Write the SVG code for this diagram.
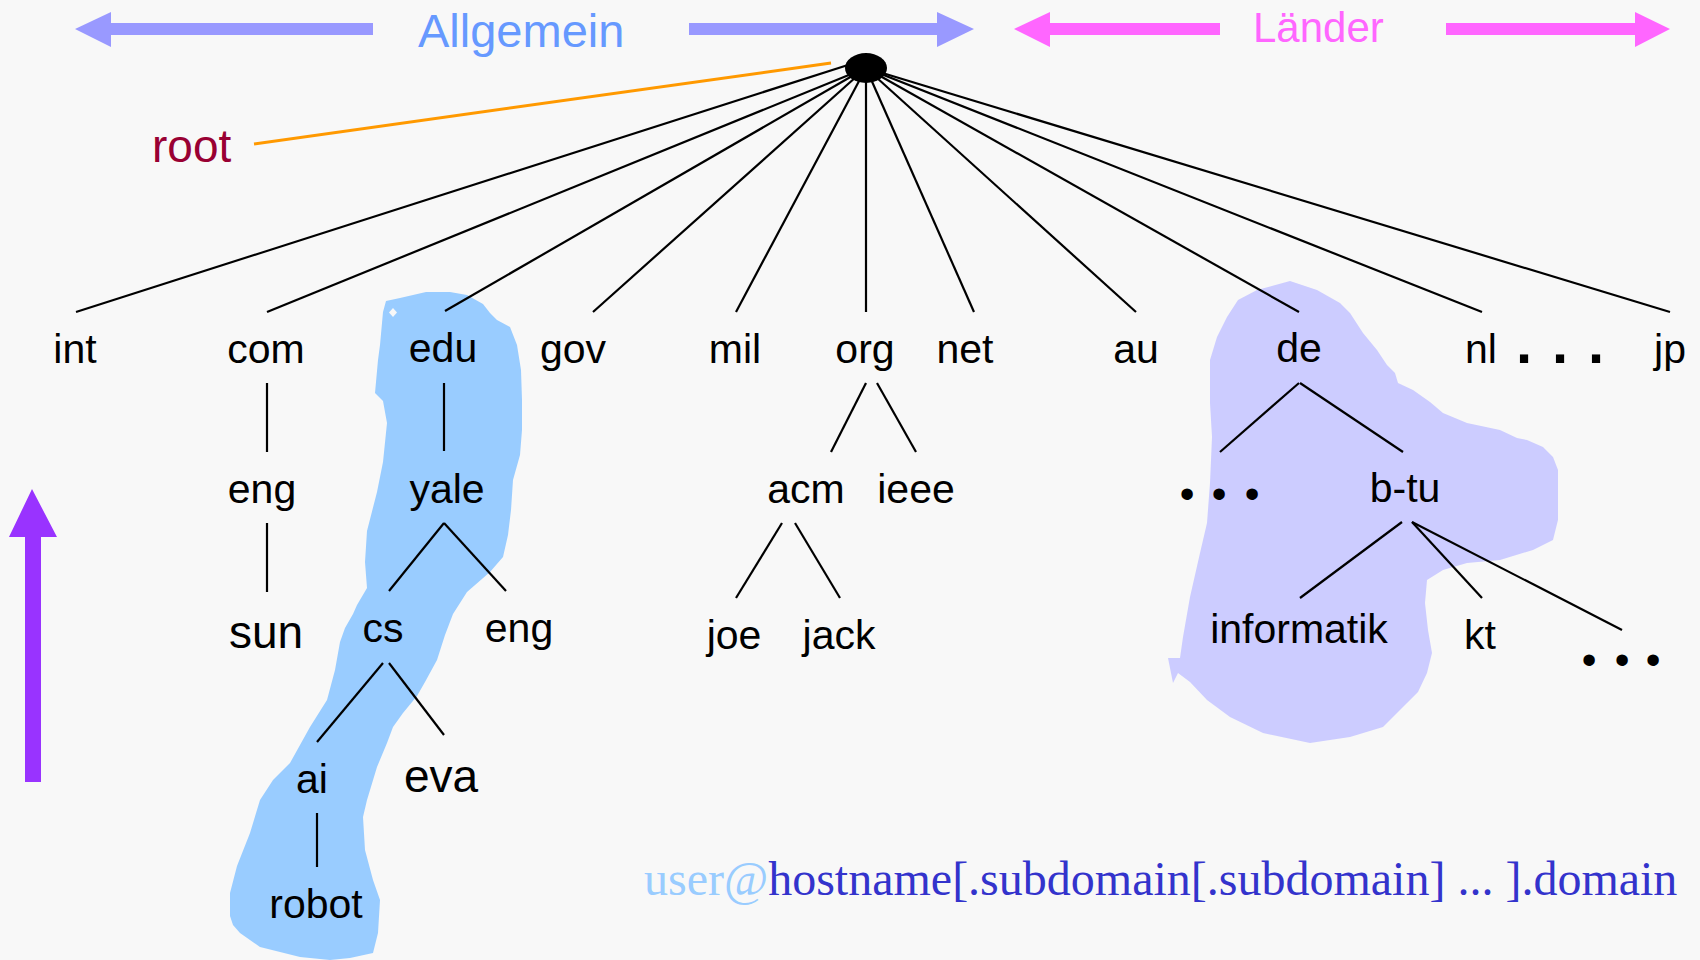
<svg xmlns="http://www.w3.org/2000/svg" width="1700" height="960" viewBox="0 0 1700 960">
  <style>
    .lbl { font-family: "Liberation Sans", Arial, sans-serif; font-size: 41px; fill: #000; text-anchor: middle; }
    .big { font-size: 46px; }
    .edge { stroke: #000; stroke-width: 2.2; fill: none; }
    .dots { font-family: "Liberation Sans", Arial, sans-serif; font-size: 42px; fill: #000; text-anchor: middle; }
    .periods { font-family: "Liberation Sans", Arial, sans-serif; font-size: 58px; font-weight: bold; fill: #000; text-anchor: middle; }
  </style>

  <rect width="1700" height="960" fill="#f8f8f8"/>

  <!-- highlighted zones -->
  <g id="zone-edu">
    <path fill="#99ccff" d="M383,312 L386,301 L400,298 L426,292 L450,292 L467,295 L483,304 L490,313 L497,320 L510,327 L517,345 L521,370 L522,400 L522,430 L520,455 L513,480 L511,510 L508,535 L503,557 L490,572 L467,592 L453,614 L445,635 L437,660 L425,682 L417,696 L403,713 L393,727 L387,743 L377,767 L367,800 L363,817 L365,850 L373,880 L380,900 L378,933 L373,953 L350,958 L330,960 L300,957 L280,952 L260,947 L240,933 L233,925 L230,916 L230,893 L237,866 L250,833 L260,800 L273,780 L290,763 L310,727 L327,700 L335,670 L340,642 L345,628 L353,614 L357,605 L367,588 L365,562 L367,531 L377,492 L383,462 L387,423 L383,401 L375,393 L378,360 L380,345 Z"/>
    <polygon fill="#f8f8f8" points="389,312.5 393,308 397,312.5 393,317"/>
  </g>
  <g id="zone-de">
    <path fill="#ccccff" d="M1290,281 L1317,290 L1340,303 L1350,313 L1363,333 L1377,350 L1387,365 L1395,373 L1398,383 L1413,390 L1430,402 L1443,413 L1467,423 L1500,430 L1517,438 L1527,440 L1543,447 L1553,457 L1558,470 L1558,497 L1558,520 L1553,540 L1533,550 L1500,560 L1467,563 L1443,570 L1427,580 L1425,603 L1428,630 L1432,653 L1427,673 L1418,692 L1407,703 L1383,727 L1350,737 L1310,743 L1263,733 L1230,717 L1207,700 L1190,682 L1178,673 L1173,683 L1168,658 L1180,658 L1183,637 L1190,597 L1200,553 L1207,523 L1210,483 L1212,437 L1210,403 L1210,360 L1217,337 L1227,317 L1238,300 L1257,290 Z"/>
  </g>

  <!-- category headings with double arrows -->
  <g id="heading-allgemein">
    <polygon fill="#9999ff" points="75,29 111,12 111,23 373,23 373,35 111,35 111,47"/>
    <polygon fill="#9999ff" points="689,23 937,23 937,12 974,29 937,47 937,35 689,35"/>
    <text x="418" y="47" font-family="Liberation Sans, Arial, sans-serif" font-size="47" fill="#6699ff">Allgemein</text>
  </g>
  <g id="heading-laender">
    <polygon fill="#ff66ff" points="1014,29 1050,12 1050,23 1220,23 1220,35 1050,35 1050,47"/>
    <polygon fill="#ff66ff" points="1446,23 1635,23 1635,12 1670,29 1635,47 1635,35 1446,35"/>
    <text x="1253" y="42" font-family="Liberation Sans, Arial, sans-serif" font-size="42" fill="#ff66ff">Länder</text>
  </g>

  <!-- resolution direction -->
  <g id="direction-arrow">
    <polygon fill="#9933ff" points="32,489 57,537 41,537 41,782 25,782 25,537 9,537"/>
  </g>

  <!-- tree edges -->
  <g id="connectors">
    <line x1="254" y1="144" x2="831" y2="63" stroke="#ff9900" stroke-width="3"/>
    <line class="edge" x1="848" y1="65" x2="76" y2="312"/>
    <line class="edge" x1="866" y1="68" x2="267" y2="312"/>
    <line class="edge" x1="866" y1="68" x2="445" y2="311"/>
    <line class="edge" x1="866" y1="68" x2="593" y2="312"/>
    <line class="edge" x1="866" y1="68" x2="736" y2="312"/>
    <line class="edge" x1="866" y1="68" x2="866" y2="312"/>
    <line class="edge" x1="866" y1="68" x2="974" y2="312"/>
    <line class="edge" x1="866" y1="68" x2="1136" y2="312"/>
    <line class="edge" x1="866" y1="68" x2="1299" y2="312"/>
    <line class="edge" x1="866" y1="68" x2="1482" y2="312"/>
    <line class="edge" x1="866" y1="68" x2="1670" y2="312"/>

    <line class="edge" x1="267" y1="383" x2="267" y2="452"/>
    <line class="edge" x1="267" y1="523" x2="267" y2="592"/>

    <line class="edge" x1="444" y1="383" x2="444" y2="451"/>
    <line class="edge" x1="444" y1="523" x2="389" y2="591"/>
    <line class="edge" x1="444" y1="523" x2="506" y2="591"/>
    <line class="edge" x1="383" y1="663" x2="317" y2="742"/>
    <line class="edge" x1="389" y1="663" x2="444" y2="735"/>
    <line class="edge" x1="317" y1="813" x2="317" y2="867"/>

    <line class="edge" x1="866" y1="383" x2="831" y2="452"/>
    <line class="edge" x1="877" y1="383" x2="916" y2="452"/>
    <line class="edge" x1="782" y1="523" x2="736" y2="598"/>
    <line class="edge" x1="795" y1="523" x2="840" y2="598"/>

    <line class="edge" x1="1299" y1="383" x2="1220" y2="452"/>
    <line class="edge" x1="1300" y1="383" x2="1403" y2="452"/>
    <line class="edge" x1="1402" y1="522" x2="1300" y2="598"/>
    <line class="edge" x1="1412" y1="522" x2="1482" y2="598"/>
    <line class="edge" x1="1412" y1="522" x2="1622" y2="630"/>
  </g>

  <!-- root -->
  <g id="node-root">
    <ellipse cx="866" cy="68" rx="21" ry="15" fill="#000"/>
    <text x="152" y="162" font-family="Liberation Sans, Arial, sans-serif" font-size="46" fill="#990033">root</text>
  </g>

  <!-- top-level domains -->
  <g id="node-int"><text class="lbl" x="75" y="363">int</text></g>
  <g id="node-com"><text class="lbl" x="266" y="363">com</text></g>
  <g id="node-edu"><text class="lbl" x="443" y="362">edu</text></g>
  <g id="node-gov"><text class="lbl" x="573" y="363">gov</text></g>
  <g id="node-mil"><text class="lbl" x="735" y="363">mil</text></g>
  <g id="node-org"><text class="lbl" x="865" y="363">org</text></g>
  <g id="node-net"><text class="lbl" x="965" y="363">net</text></g>
  <g id="node-au"><text class="lbl" x="1136" y="363">au</text></g>
  <g id="node-de"><text class="lbl" x="1299" y="362">de</text></g>
  <g id="node-nl"><text class="lbl" x="1481" y="363">nl</text></g>
  <g id="node-more-tld"><text class="periods" x="1524 1560 1596" y="363">...</text></g>
  <g id="node-jp"><text class="lbl" x="1670" y="363">jp</text></g>

  <!-- second level -->
  <g id="node-com-eng"><text class="lbl" x="262" y="503">eng</text></g>
  <g id="node-yale"><text class="lbl" x="447" y="503">yale</text></g>
  <g id="node-acm"><text class="lbl" x="806" y="503">acm</text></g>
  <g id="node-ieee"><text class="lbl" x="916" y="503">ieee</text></g>
  <g id="node-de-more"><text class="dots" x="1187 1219 1252" y="508">•••</text></g>
  <g id="node-b-tu"><text class="lbl" x="1405" y="502">b-tu</text></g>

  <!-- third level -->
  <g id="node-sun"><text class="lbl big" x="266" y="648">sun</text></g>
  <g id="node-cs"><text class="lbl" x="383" y="642">cs</text></g>
  <g id="node-yale-eng"><text class="lbl" x="519" y="642">eng</text></g>
  <g id="node-joe"><text class="lbl" x="734" y="649">joe</text></g>
  <g id="node-jack"><text class="lbl" x="839" y="649">jack</text></g>
  <g id="node-informatik"><text class="lbl" x="1299" y="643">informatik</text></g>
  <g id="node-kt"><text class="lbl" x="1480" y="649">kt</text></g>
  <g id="node-b-tu-more"><text class="dots" x="1589 1622 1653" y="674">•••</text></g>

  <!-- fourth level and below -->
  <g id="node-ai"><text class="lbl" x="312" y="793">ai</text></g>
  <g id="node-eva"><text class="lbl big" x="441" y="792">eva</text></g>
  <g id="node-robot"><text class="lbl" x="316" y="918">robot</text></g>

  <!-- address pattern -->
  <g id="address-format">
    <text x="644" y="895" font-family="Liberation Serif, 'Times New Roman', serif" font-size="48"><tspan fill="#99ccff">user@</tspan><tspan fill="#3333cc">hostname[.subdomain[.subdomain] ... ].domain</tspan></text>
  </g>
</svg>
